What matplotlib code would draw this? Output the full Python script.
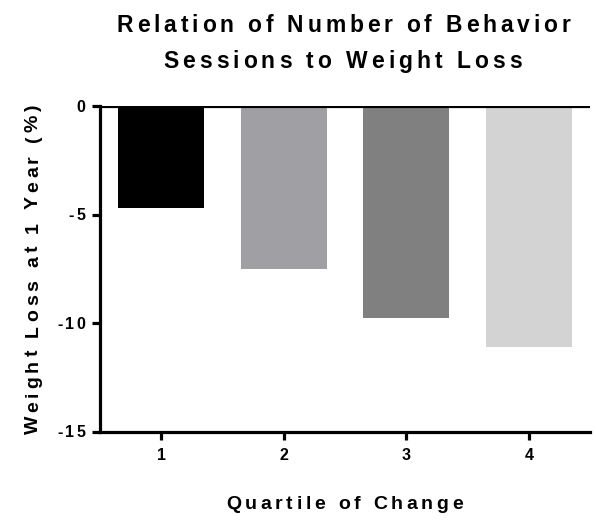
import matplotlib.pyplot as plt
from matplotlib import font_manager
from matplotlib.ft2font import FT2Font
from matplotlib.transforms import IdentityTransform

plt.rcParams['font.family'] = ['Liberation Sans', 'DejaVu Sans']
plt.rcParams['font.weight'] = 'bold'

# data
quartiles = [1, 2, 3, 4]
weight_loss = [-4.7, -7.5, -9.75, -11.1]
bar_colors = ['#000000', '#A0A0A4', '#808080', '#D3D3D3']
y_ticks = [0, -5, -10, -15]
title_lines = ["Relation of Number of Behavior", "Sessions to Weight Loss"]
x_label = "Quartile of Change"
y_label = "Weight Loss at 1 Year (%)"


def spaced_text(fig, s, x, y, size, spacing, rotation=0, align='center'):
    # letter-spaced text at (x, y) in pixels, y = baseline
    prop = font_manager.FontProperties(family='Liberation Sans', weight='bold', size=size)
    font = FT2Font(font_manager.findfont(prop))
    font.set_size(size, fig.dpi)
    adv = [font.load_char(ord(c)).linearHoriAdvance / 65536 for c in s]
    total = sum(adv) + spacing * (len(s) - 1)
    pos = -total / 2 if align == 'center' else -total
    for c, a in zip(s, adv):
        if c != ' ':
            px, py = (x + pos, y) if rotation == 0 else (x, y + pos)
            fig.text(px, py, c, transform=IdentityTransform(), fontproperties=prop,
                     ha='left', va='baseline', rotation=rotation, rotation_mode='anchor')
        pos += a + spacing


fig = plt.figure(figsize=(5.96, 5.2), dpi=100)
ax = fig.add_axes([0.168, 0.170, 0.822, 0.626])

ax.bar(quartiles, weight_loss, width=0.7, color=bar_colors, zorder=2)
ax.axhline(0, color='black', linewidth=2.3, zorder=3)

ax.set_xlim(0.5, 4.5)
ax.set_ylim(-15, 0)
ax.set_xticks(quartiles)
ax.set_yticks(y_ticks)
ax.set_yticklabels([''] * len(y_ticks))

for s in ['top', 'right']:
    ax.spines[s].set_visible(False)
for s in ['left', 'bottom']:
    ax.spines[s].set_linewidth(2.3)
ax.tick_params(width=2.3, length=6, labelsize=11.5, pad=6)
for lbl in ax.get_xticklabels():
    lbl.set_fontweight('bold')

# y tick labels with the same wide letter spacing as the original
x_axis_px = ax.transAxes.transform((0, 0))[0]
for t in y_ticks:
    ty = ax.transData.transform((1, t))[1]
    spaced_text(fig, str(t), x_axis_px - 15, ty - 5.5, 11.5, 2.5, align='right')

spaced_text(fig, title_lines[0], 343.5, 488, 16.5, 3.8)
spaced_text(fig, title_lines[1], 342.5, 452, 16.5, 4.0)
spaced_text(fig, x_label, 344.5, 11, 14, 3.7)
spaced_text(fig, y_label, 38, 251, 14, 3.8, rotation=90)

fig.savefig("out.png", dpi=100)
